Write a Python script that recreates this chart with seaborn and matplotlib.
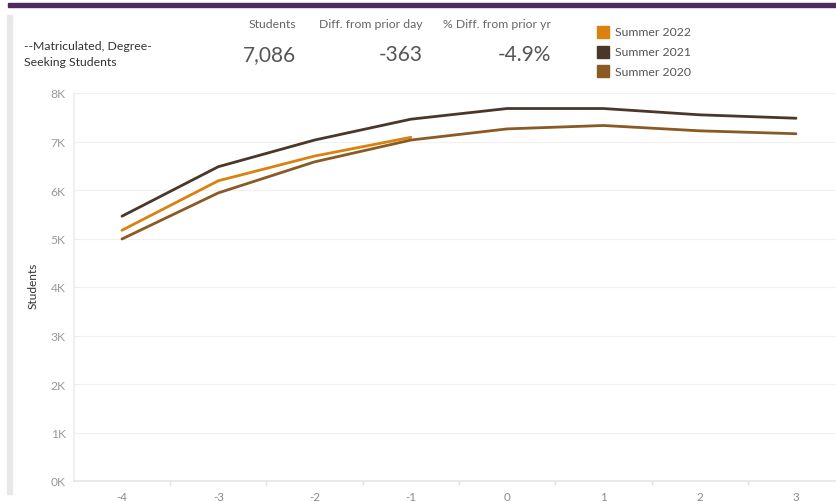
import matplotlib
matplotlib.use("Agg")
import matplotlib.pyplot as plt
from matplotlib.patches import Rectangle
from matplotlib.ticker import FuncFormatter, FixedLocator
import seaborn as sns
import pandas as pd

# ---- data ----
days = [-4, -3, -2, -1, 0, 1, 2, 3]
summer_2022 = [5170, 6190, 6700, 7086]
summer_2021 = [5460, 6480, 7030, 7460, 7680, 7680, 7550, 7480]
summer_2020 = [4990, 5940, 6580, 7030, 7260, 7330, 7220, 7160]
series_names = ["Summer 2022", "Summer 2021", "Summer 2020"]
colors = ["#D9820F", "#4B3729", "#8A5A24"]
header_labels = ["Students", "Diff. from prior day", "% Diff. from prior yr"]
header_values = ["7,086", "-363", "-4.9%"]
title_lines = ["--Matriculated, Degree-", "Seeking Students"]

rows = []
for name, vals in zip(series_names, [summer_2022, summer_2021, summer_2020]):
    for d, v in zip(days, vals):
        rows.append({"Day": d, "Students": v, "Term": name})
df = pd.DataFrame(rows)

sns.set_theme(style="white")
plt.rcParams["font.family"] = ["Lato", "DejaVu Sans"]

W, H = 837, 502
fig = plt.figure(figsize=(W / 100, H / 100), dpi=100)

def fx(x):
    return x / W

def fy(y):
    return 1 - y / H

# axes: x -4.5..3.5 mapped so -4 at 122px, 3 at 796px
step = (796 - 122) / 7
left_px = 122 - 0.5 * step
right_px = 796 + 0.5 * step
top_px, bot_px = 94, 482
ax = fig.add_axes([fx(left_px), fy(bot_px), (right_px - left_px) / W, (bot_px - top_px) / H])

sns.lineplot(data=df, x="Day", y="Students", hue="Term", hue_order=series_names,
             palette=dict(zip(series_names, colors)), linewidth=2.0, ax=ax,
             legend=False, sort=True)

ax.set_xlim(-4.5, 3.5)
ax.set_ylim(0, 8000)
ax.set_xticks(days)
ax.set_xticklabels([str(d) for d in days])
ax.xaxis.set_minor_locator(FixedLocator([d + 0.5 for d in days[:-1]]))
ax.set_yticks(range(0, 8001, 1000))
ax.yaxis.set_major_formatter(FuncFormatter(lambda v, p: f"{int(v/1000)}K"))
ax.grid(axis="y", color="#f1f1f1", linewidth=0.9)
ax.grid(axis="x", visible=False)
for s in ["top", "right"]:
    ax.spines[s].set_visible(False)
ax.spines["left"].set_color("#ededed")
ax.spines["bottom"].set_color("#e6e6e6")
ax.tick_params(axis="x", which="major", length=0, colors="#888888", labelsize=8.3, pad=7)
ax.tick_params(axis="x", which="minor", length=3, color="#e0e0e0", bottom=True)
ax.tick_params(axis="y", length=0, colors="#999999", labelsize=8.7, pad=6)
ax.set_xlabel("")
ax.set_ylabel("")
fig.text(fx(33), fy(286), "Students", rotation=90, fontsize=8.6, color="#333333",
         ha="center", va="center")

# decorations
fig.patches.append(Rectangle((fx(8), fy(7.5)), fx(837 - 8), 3.5 / H, transform=fig.transFigure,
                             color="#4E2A5E", zorder=5))
fig.patches.append(Rectangle((fx(7), fy(495)), fx(5), (495 - 16) / H, transform=fig.transFigure,
                             color="#e8e8e8", zorder=1))

# left title
fig.text(fx(24), fy(47), title_lines[0], fontsize=8.8, color="#333333", va="center", ha="left")
fig.text(fx(24), fy(63), title_lines[1], fontsize=8.8, color="#333333", va="center", ha="left")

# header KPIs
right_edges = [296, 423, 551]
for lab, val, rx in zip(header_labels, header_values, right_edges):
    fig.text(fx(rx), fy(25), lab, fontsize=8.8, color="#666666", ha="right", va="center")
    fig.text(fx(rx), fy(55), val, fontsize=15, color="#555555", ha="right", va="center")

# legend
for i, (name, c) in enumerate(zip(series_names, colors)):
    yc = 33 + i * 19.5
    fig.patches.append(Rectangle((fx(597), fy(yc + 6)), fx(12), 12 / H,
                                 transform=fig.transFigure, color=c))
    fig.text(fx(615), fy(yc), name, fontsize=8.8, color="#555555", ha="left", va="center")

fig.savefig("out.png", dpi=100)
